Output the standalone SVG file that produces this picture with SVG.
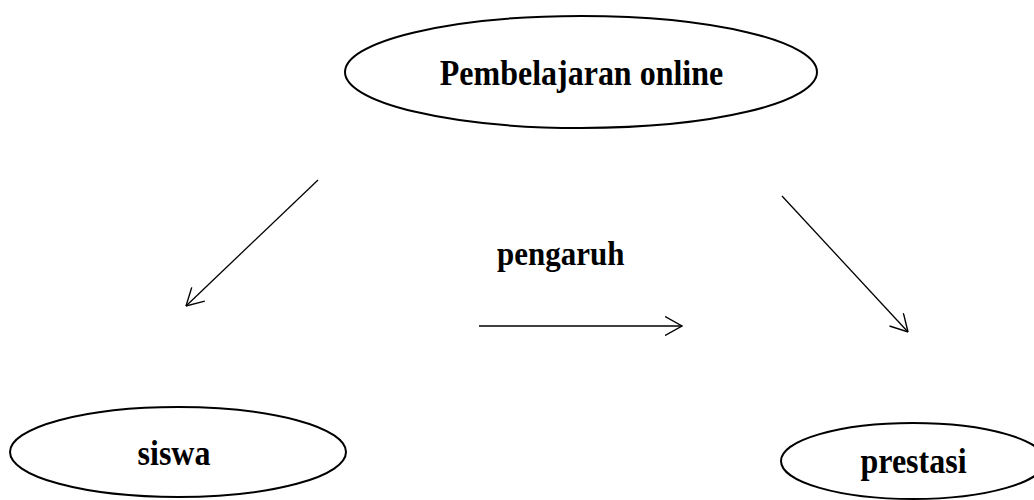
<svg xmlns="http://www.w3.org/2000/svg" width="1034" height="500" viewBox="0 0 1034 500">
  <style>
    .node ellipse { fill: #ffffff; stroke: #000000; stroke-width: 2; }
    .node text { font-family: "Liberation Serif", "Times New Roman", serif; font-weight: bold; font-size: 32px; fill: #000000; text-anchor: middle; }
    .label { font-family: "Liberation Serif", "Times New Roman", serif; font-weight: bold; font-size: 31px; fill: #000000; }
    .edge { fill: none; stroke: #000000; stroke-width: 1.3; marker-end: url(#chevron); }
  </style>
  <defs>
    <marker id="chevron" markerUnits="userSpaceOnUse" viewBox="0 0 18 20" markerWidth="18" markerHeight="20" refX="17.5" refY="10" orient="auto">
      <path d="M0.5,0.5 L17.5,10 L0.5,19.5" fill="none" stroke="#000000" stroke-width="1.4"/>
    </marker>
  </defs>
  <rect width="1034" height="500" fill="#ffffff"/>

  <g id="pembelajaran-online" class="node">
    <ellipse cx="581" cy="72" rx="236" ry="56"/>
    <text transform="translate(581.5,85) scale(1,1.1)">Pembelajaran online</text>
  </g>

  <g id="siswa" class="node">
    <ellipse cx="178" cy="452" rx="168" ry="45"/>
    <text transform="translate(174,465) scale(1,1.1)">siswa</text>
  </g>

  <g id="prestasi" class="node">
    <ellipse cx="913" cy="461" rx="132" ry="38"/>
    <text transform="translate(913.5,473) scale(1,1.1)">prestasi</text>
  </g>

  <g id="connectors">
    <line class="edge" x1="318" y1="180" x2="186" y2="306"/>
    <line class="edge" x1="479" y1="326" x2="682" y2="326"/>
    <line class="edge" x1="782" y1="196" x2="908" y2="332"/>
  </g>

  <text class="label" transform="translate(497,265) scale(1,1.1)">pengaruh</text>
</svg>
